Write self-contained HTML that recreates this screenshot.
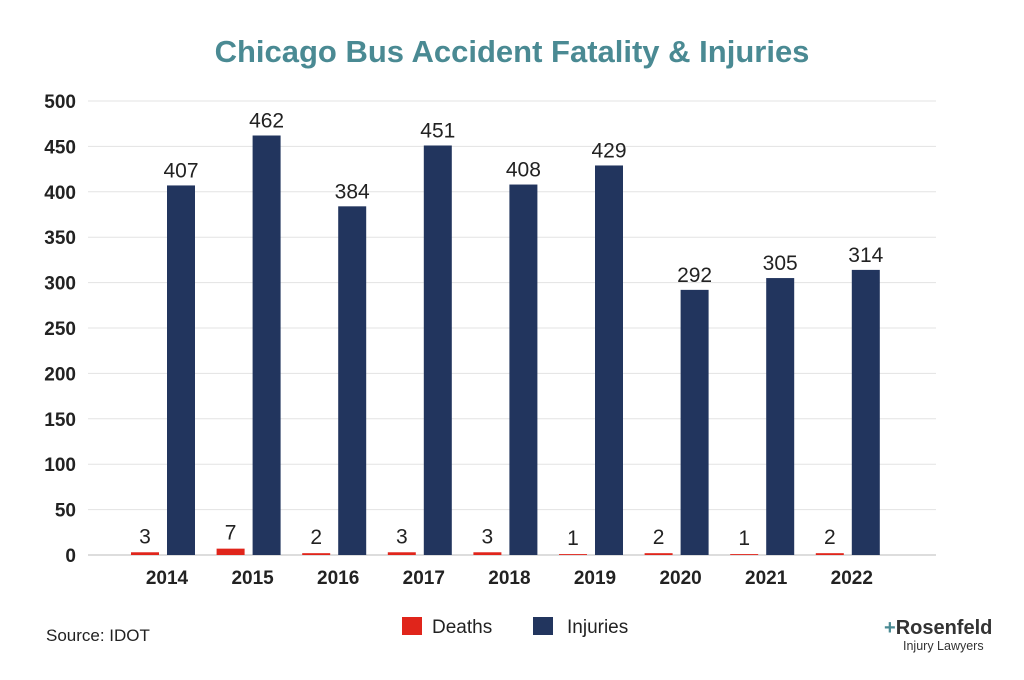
<!DOCTYPE html>
<html><head><meta charset="utf-8"><style>
body{margin:0;background:#fff;width:1024px;height:675px;overflow:hidden;font-family:"Liberation Sans",sans-serif}
</style></head><body>
<svg id="c" width="1024" height="675">
<text x="512" y="62" text-anchor="middle" font-size="31" font-weight="bold" fill="#4a8a93">Chicago Bus Accident Fatality &amp; Injuries</text>
<g id="grid"></g><g id="bars"></g>
<text x="46" y="641" font-size="17" fill="#222">Source: IDOT</text>
<rect x="402" y="617" width="20" height="18" fill="#e0251b"/>
<text x="432" y="633" font-size="19" fill="#222">Deaths</text>
<rect x="533" y="617" width="20" height="18" fill="#22355e"/>
<text x="567" y="633" font-size="19" fill="#222">Injuries</text>
<g>
<text x="884" y="634" font-size="20" font-weight="bold" fill="#333"><tspan fill="#4a8a93">+</tspan>Rosenfeld</text>
<text x="903" y="650" font-size="12.5" fill="#333">Injury Lawyers</text>
</g>
</svg>
<script>
const years=["2014","2015","2016","2017","2018","2019","2020","2021","2022"];
const deaths=[3,7,2,3,3,1,2,1,2];
const injuries=[407,462,384,451,408,429,292,305,314];
const ticks=[0,50,100,150,200,250,300,350,400,450,500];
const NS="http://www.w3.org/2000/svg";
const y0=555,k=0.908,x0=168,step=85.6,bw=28;
const Y=v=>y0-v*k, X=i=>x0+i*step;
function el(t,a,p,txt){const e=document.createElementNS(NS,t);for(const q in a)e.setAttribute(q,a[q]);if(txt!==undefined)e.textContent=txt;p.appendChild(e);return e;}
const g=document.getElementById('grid'),b=document.getElementById('bars');
ticks.forEach(t=>{
 const l=el('line',{x1:88,x2:936,y1:Y(t),y2:Y(t),stroke:t===0?'#bbb':'#e3e3e3','stroke-width':1},g);
 
 
 const tx=el('text',{x:76,y:Y(t)+7,'text-anchor':'end','font-size':19,'font-weight':'bold',fill:'#222'},g,t);
 
 
});
years.forEach((yr,i)=>{
 const cx=X(i);
 const d=el('rect',{x:cx-37,y:Y(deaths[i]),width:bw,height:deaths[i]*k,fill:'#e0251b'},b);
 
 
 const dl=el('text',{x:cx-23,y:Y(deaths[i])-9,'text-anchor':'middle','font-size':21,fill:'#222'},b,deaths[i]);
 
 
 const r=el('rect',{x:cx-1,y:Y(injuries[i]),width:bw,height:injuries[i]*k,fill:'#22355e'},b);
 
 
 const il=el('text',{x:cx+13,y:Y(injuries[i])-8,'text-anchor':'middle','font-size':21,fill:'#222'},b,injuries[i]);
 
 
 const xl=el('text',{x:cx-1,y:584,'text-anchor':'middle','font-size':19,'font-weight':'bold',fill:'#222'},b,yr);
 
 
});
</script>
</body></html>
